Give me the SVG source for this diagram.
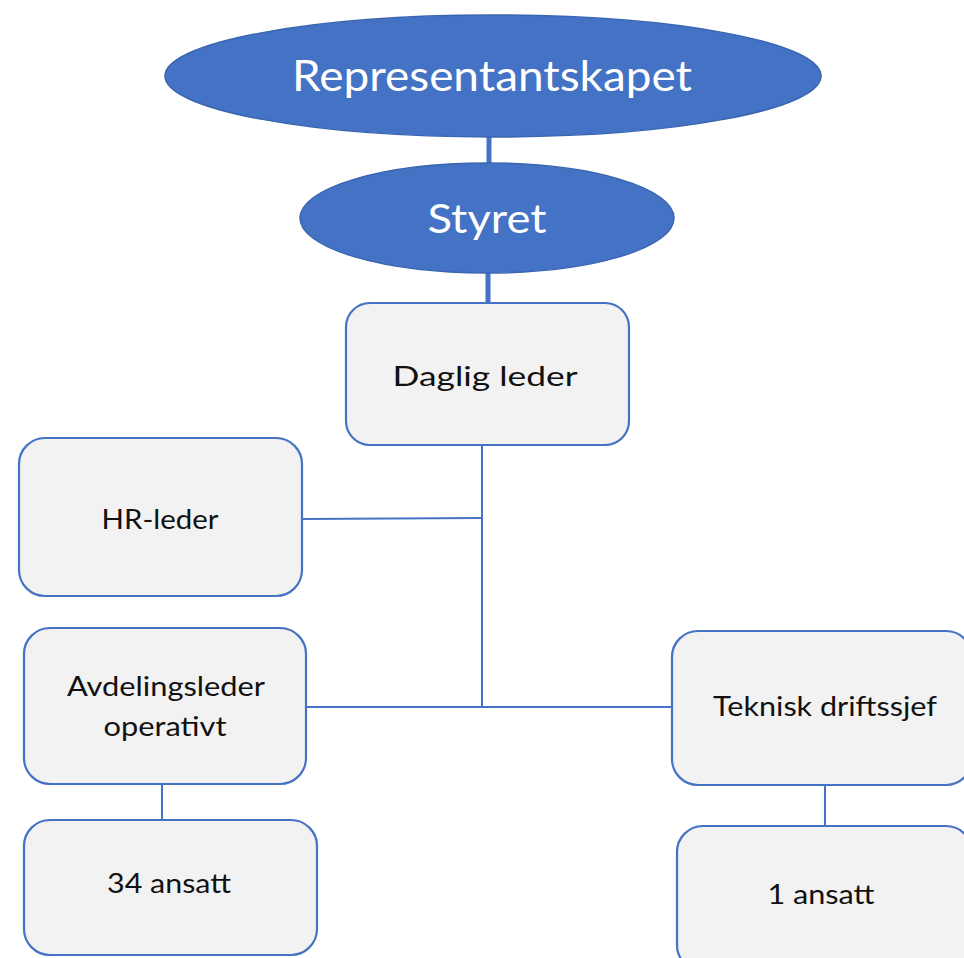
<svg xmlns="http://www.w3.org/2000/svg" width="964" height="958" viewBox="0 0 964 958">
<style>
.ell{fill:#4472C4;stroke:#3A65B0;stroke-width:1.5}
.box{fill:#F2F2F2;stroke:#4472C4;stroke-width:2.2}
.wt{font-family:Lato,"Open Sans",sans-serif;fill:#FFFFFF;text-anchor:middle}
.bt{font-family:Lato,"Open Sans",sans-serif;fill:#111111;text-anchor:middle;font-size:26px}
.thin{stroke:#4472C4;stroke-width:2;fill:none}
.thick{stroke:#4472C4;stroke-width:5;fill:none}
</style>
<rect width="964" height="958" fill="#FFFFFF"/>
<g id="connectors">
<line class="thick" x1="489" y1="135" x2="489" y2="165"/>
<line class="thick" x1="488" y1="270" x2="488" y2="304"/>
<line class="thin" x1="482" y1="445" x2="482" y2="708"/>
<line class="thin" x1="302" y1="519" x2="482" y2="518"/>
<line class="thin" x1="306" y1="707" x2="672" y2="707"/>
<line class="thin" x1="162" y1="784" x2="162" y2="821"/>
<line class="thin" x1="825" y1="785" x2="825" y2="827"/>
</g>
<g id="representantskapet">
<ellipse class="ell" cx="493" cy="76" rx="328" ry="61"/>
<text class="wt" x="492" y="91" font-size="42" textLength="400" lengthAdjust="spacingAndGlyphs">Representantskapet</text>
</g>
<g id="styret">
<ellipse class="ell" cx="487" cy="218" rx="187" ry="55"/>
<text class="wt" x="487" y="233" font-size="40" textLength="119" lengthAdjust="spacingAndGlyphs">Styret</text>
</g>
<g id="daglig-leder">
<rect class="box" x="346" y="303" width="283" height="142" rx="24"/>
<text class="bt" x="485" y="386" font-size="28" textLength="185" lengthAdjust="spacingAndGlyphs">Daglig leder</text>
</g>
<g id="hr-leder">
<rect class="box" x="19" y="438" width="283" height="158" rx="26"/>
<text class="bt" x="160" y="529" textLength="117" lengthAdjust="spacingAndGlyphs">HR-leder</text>
</g>
<g id="avdelingsleder">
<rect class="box" x="24" y="628" width="282" height="156" rx="26"/>
<text class="bt" x="166" y="696" textLength="198" lengthAdjust="spacingAndGlyphs">Avdelingsleder</text>
<text class="bt" x="165" y="736" textLength="123" lengthAdjust="spacingAndGlyphs">operativt</text>
</g>
<g id="teknisk-driftssjef">
<rect class="box" x="672" y="631" width="300" height="154" rx="26"/>
<text class="bt" x="825" y="716" textLength="224" lengthAdjust="spacingAndGlyphs">Teknisk driftssjef</text>
</g>
<g id="ansatt-34">
<rect class="box" x="24" y="820" width="293" height="135" rx="26"/>
<text class="bt" x="169" y="893" textLength="124" lengthAdjust="spacingAndGlyphs">34 ansatt</text>
</g>
<g id="ansatt-1">
<rect class="box" x="677" y="826" width="295" height="145" rx="26"/>
<text class="bt" x="821" y="904" textLength="107" lengthAdjust="spacingAndGlyphs">1 ansatt</text>
</g>
</svg>
